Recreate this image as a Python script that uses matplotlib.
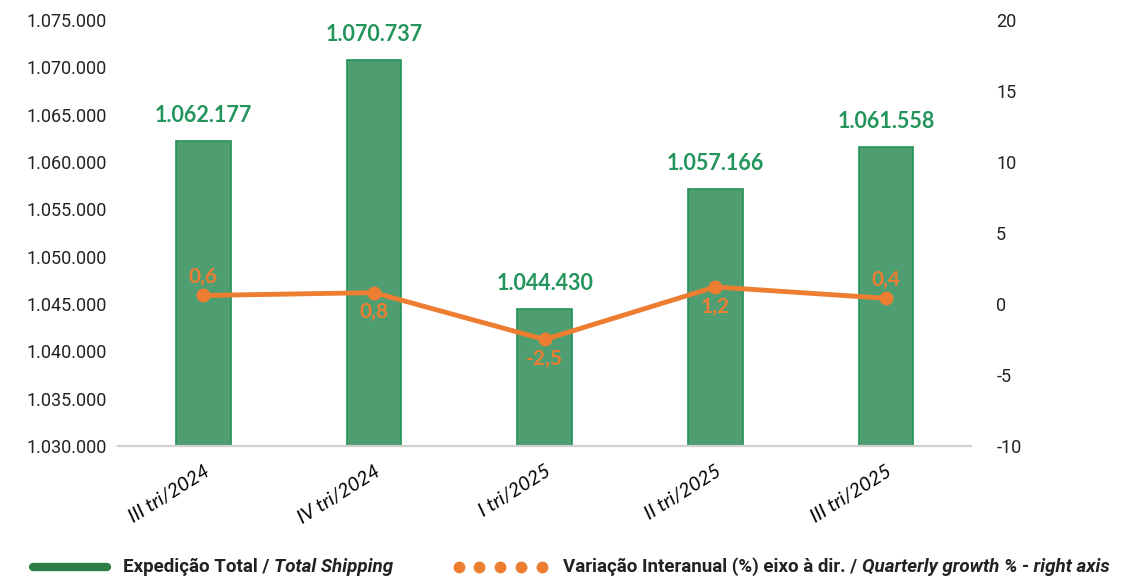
import matplotlib
matplotlib.use('Agg')
import matplotlib.pyplot as plt
import matplotlib.transforms as mtransforms
from matplotlib.lines import Line2D
from matplotlib.ticker import FuncFormatter, MultipleLocator

plt.rcParams['axes.unicode_minus'] = False

categories = ['III tri/2024', 'IV tri/2024', 'I tri/2025', 'II tri/2025', 'III tri/2025']
shipping = [1062177, 1070737, 1044430, 1057166, 1061558]
growth = [0.6, 0.8, -2.5, 1.2, 0.4]
growth_label_above = [True, False, False, False, True]

BAR = '#4f9e72'
BAR_EDGE = '#22925a'
LABEL_GREEN = '#23955c'
ORANGE = '#ed7d31'
TEXT = '#222222'


def dotted(v):
    return f"{v:,.0f}".replace(',', '.')


fig = plt.figure(figsize=(11.24, 5.79), dpi=100)
ax = fig.add_axes([0.105, 0.2297, 0.759, 0.7358])
ax2 = ax.twinx()

x = list(range(len(categories)))
ax.bar(x, shipping, width=0.32, color=BAR, edgecolor=BAR_EDGE, linewidth=1.2, zorder=2)
ax.set_ylim(1030000, 1075000)
ax.set_xlim(-0.5, len(categories) - 0.5)
ax.yaxis.set_major_locator(MultipleLocator(5000))
ax.yaxis.set_major_formatter(FuncFormatter(lambda v, p: dotted(v)))

for xi, v in zip(x, shipping):
    ax.annotate(dotted(v), (xi, v), xytext=(0, 11), textcoords='offset points',
                ha='center', va='bottom', color=LABEL_GREEN, fontsize=15.5,
                fontweight='bold', family='Lato')

ax2.plot(x, growth, color=ORANGE, linewidth=3.5, marker='o', markersize=9, zorder=3)
ax2.set_ylim(-10, 20)
ax2.yaxis.set_major_locator(MultipleLocator(5))
for xi, v, above in zip(x, growth, growth_label_above):
    ax2.annotate(f"{v:.1f}".replace('.', ','), (xi, v),
                 xytext=(0, 6 if above else -7), textcoords='offset points',
                 ha='center', va='bottom' if above else 'top', color=ORANGE,
                 fontsize=15, fontweight='bold', family='Lato')

ax.set_xticks(x)
ax.set_xticklabels(categories, rotation=32, ha='right', rotation_mode='anchor',
                   fontsize=14, style='italic', family='Lato')
shift = mtransforms.ScaledTranslation(-12 / 100, 0, fig.dpi_scale_trans)
for lab in ax.get_xticklabels():
    lab.set_transform(lab.get_transform() + shift)
ax.tick_params(axis='x', length=0, pad=12)
ax.tick_params(axis='y', length=0, labelsize=13, pad=8)
ax2.tick_params(axis='y', length=0, labelsize=13, pad=18)
for lab in ax.get_yticklabels() + ax2.get_yticklabels():
    lab.set_family('Roboto')
    lab.set_color(TEXT)

for a in (ax, ax2):
    for s in ('top', 'left', 'right'):
        a.spines[s].set_visible(False)
    a.spines['bottom'].set_color('#d0d0d0')
    a.spines['bottom'].set_linewidth(1.5)

# legend drawn below the chart, pieces chained left to right
renderer = fig.canvas.get_renderer()
ly = 0.0207


def chain(x0, parts):
    xpos = x0
    for txt, st in parts:
        t = fig.text(xpos, ly, txt, fontsize=13.5, fontweight='bold', style=st,
                     family='Roboto', va='center', color=TEXT)
        bb = t.get_window_extent(renderer)
        xpos = bb.x1 / fig.bbox.width


fig.add_artist(Line2D([0.029, 0.095], [ly, ly], transform=fig.transFigure,
                      color='#2f7d47', linewidth=6, solid_capstyle='round'))
chain(0.109, [('Expedição Total / ', 'normal'), ('Total Shipping', 'italic')])
fig.add_artist(Line2D([0.408, 0.4265, 0.445, 0.4635, 0.482], [ly] * 5,
                      transform=fig.transFigure, linestyle='none', marker='o',
                      markersize=7.5, color=ORANGE))
chain(0.501, [('Variação Interanual (%) eixo à dir. / ', 'normal'),
              ('Quarterly growth % - right axis', 'italic')])

plt.savefig('out.png', dpi=100)
plt.close()
